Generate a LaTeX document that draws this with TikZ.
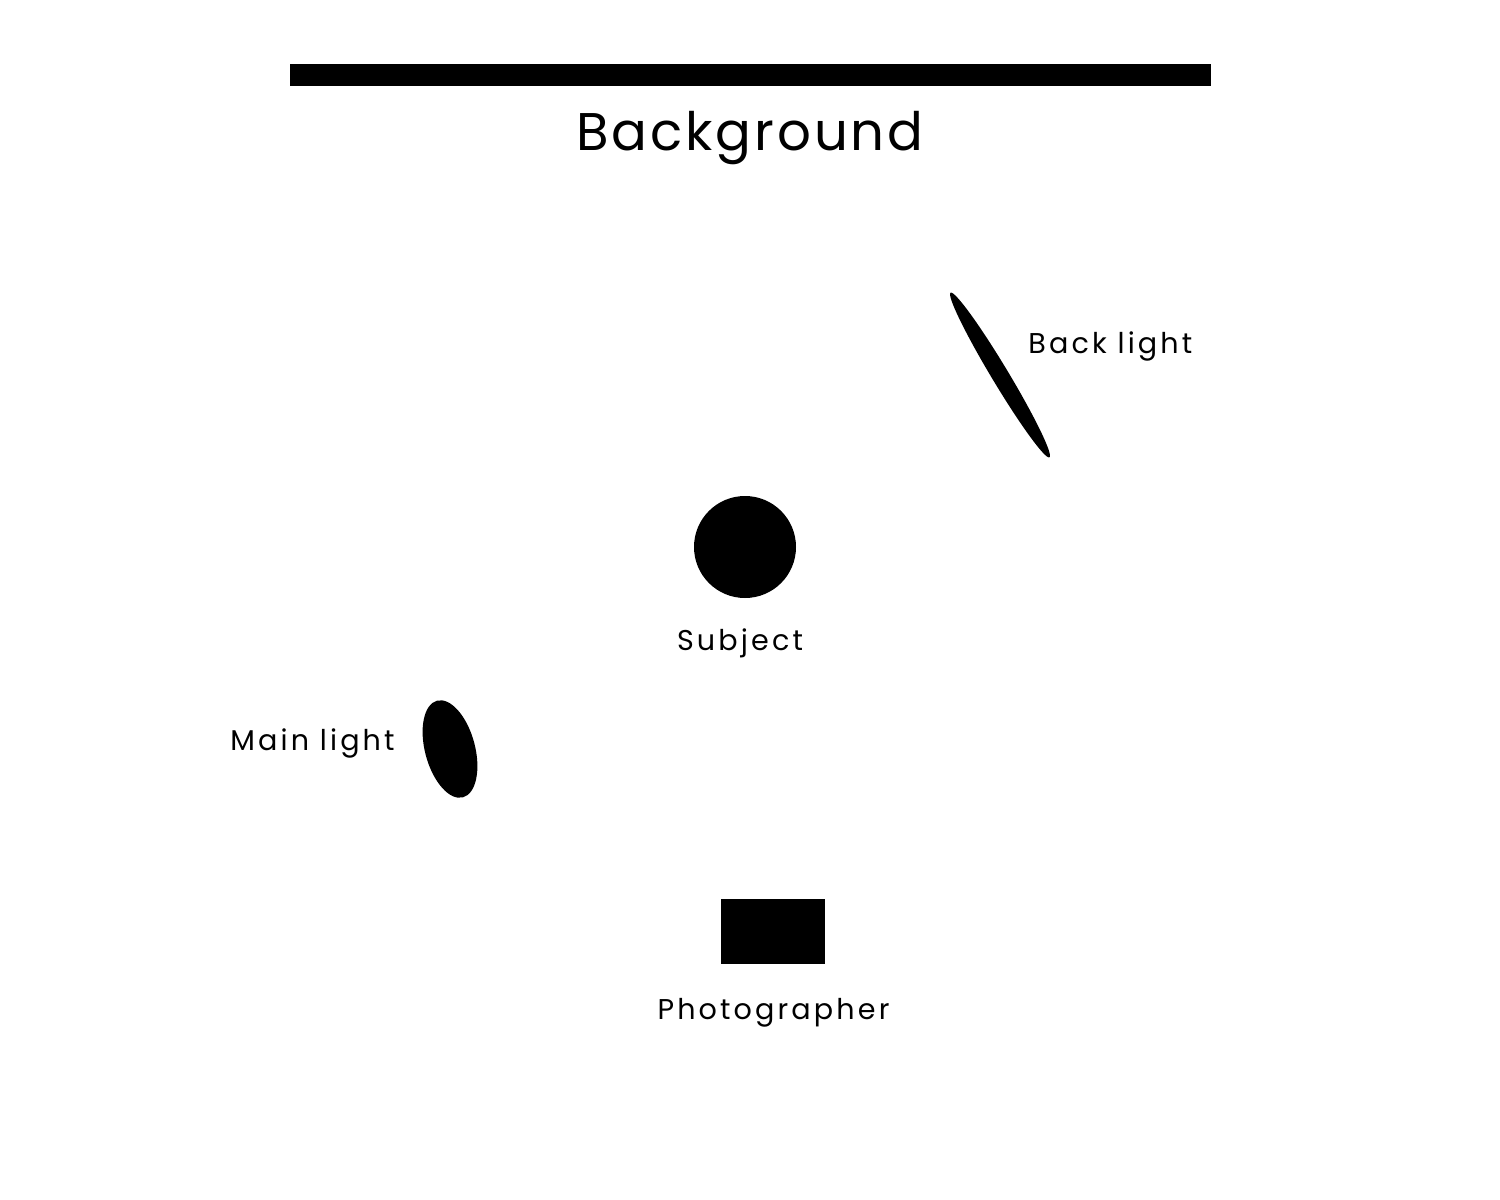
\documentclass[tikz,border=0pt]{standalone}
\usepackage{fontspec}
\setmainfont{Poppins}[LetterSpace=11]
\newfontfamily\titlefont{Poppins}[LetterSpace=5.5]
\begin{document}
\begin{tikzpicture}[x=0.5pt,y=-0.5pt,
  shape fill/.style={fill=black,draw=none},
  lbl/.style={font=\fontsize{14.3}{16}\selectfont,inner sep=0pt},
  title/.style={font=\titlefont\fontsize{26.5}{30}\selectfont,inner sep=0pt}]
\useasboundingbox[fill=white] (0,0) rectangle (1500,1200);
% background bar
\fill[shape fill] (290,64) rectangle (1211,86);
\node[title,anchor=base] (bg) at (750,150) {Background};
% back light
\fill[shape fill,rotate around={31:(1000,375)}] (1000,375) ellipse (8.5 and 96);
\node[lbl,anchor=base west] (back) at (1028,353) {Back light};
% subject
\node[circle,fill=black,minimum size=51pt,inner sep=0pt] (subj) at (745,547) {};
\node[lbl,anchor=base] (subjl) at (740,650) {Subject};
% main light
\fill[shape fill,rotate around={15:(450,749)}] (450,749) ellipse (25 and 50);
\node[lbl,anchor=base east] (main) at (395,750) {Main light};
% photographer
\fill[shape fill] (721,899) rectangle (825,964);
\node[lbl,anchor=base] (phot) at (773.5,1019) {Photographer};
\end{tikzpicture}
\end{document}
